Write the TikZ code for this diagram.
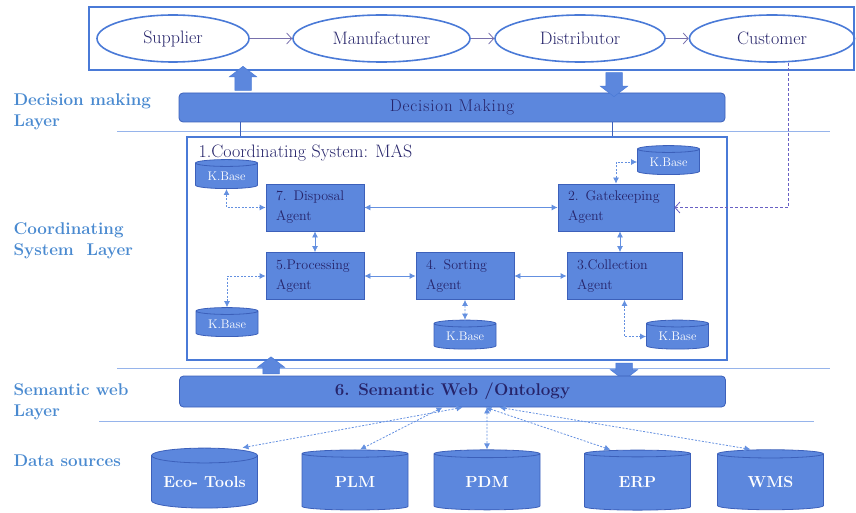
\documentclass[tikz,border=0pt]{standalone}
\usepackage{fontspec}
\setmainfont{Latin Modern Roman}
\usetikzlibrary{shapes.geometric,shapes.arrows,arrows.meta}
\definecolor{boxblue}{RGB}{92,135,221}
\definecolor{edgeblue}{RGB}{60,96,186}
\definecolor{frameblue}{RGB}{74,122,215}
\definecolor{linkblue}{RGB}{100,144,224}
\definecolor{inkblue}{RGB}{38,36,106}
\definecolor{layerblue}{RGB}{74,138,208}
\definecolor{chainline}{RGB}{120,112,172}
\definecolor{custline}{RGB}{104,96,196}
\definecolor{sepblue}{RGB}{150,180,235}

\tikzset{
  actor/.style={ellipse, draw=frameblue, line width=1.6pt, minimum height=47, inner sep=0pt, text=inkblue, font=\fontsize{18}{20}\selectfont},
  agent/.style={rectangle, draw=edgeblue, line width=0.8pt, fill=boxblue, minimum height=47, text width=#1, inner xsep=10pt, align=left, text=inkblue, font=\fontsize{14}{20}\selectfont},
  agent/.default=78,
  kbase/.style={cylinder, shape border rotate=90, aspect=0.18, draw=edgeblue, line width=0.8pt, fill=boxblue, minimum width=62, minimum height=29, inner sep=0pt, text=white, font=\fontsize{12.5}{14}\selectfont},
  store/.style={cylinder, shape border rotate=90, aspect=0.18, draw=edgeblue, line width=0.8pt, fill=boxblue, minimum width=106, minimum height=60, inner sep=0pt, text=white, font=\bfseries\fontsize{16}{18}\selectfont},
  bar/.style={rectangle, rounded corners=4pt, draw=edgeblue, line width=0.8pt, fill=boxblue, minimum width=546, text=inkblue},
  blockarr/.style={single arrow, draw=frameblue, line width=0.5pt, fill=boxblue, single arrow head extend=5.5, single arrow tip angle=105, inner xsep=0pt, inner ysep=8pt},
  layer/.style={anchor=west, align=left, text=layerblue, font=\bfseries\fontsize{17}{21}\selectfont},
  link/.style={draw=linkblue, line width=0.8pt, {Latex[length=6pt,width=6pt]}-{Latex[length=6pt,width=6pt]}},
  kblink/.style={link, dash pattern={on 2pt off 1.5pt}},
  sep/.style={draw=sepblue, line width=0.8pt}
}

\begin{document}
\begin{tikzpicture}[x=1pt,y=-1pt]
\useasboundingbox (0,0) rectangle (856,513);

% supply chain
\node[draw=frameblue, line width=1.8pt, minimum width=765, minimum height=63] (chain) at (471.5,38.5) {};
\node[actor, minimum width=152] (supp) at (173,38.5) {Supplier};
\node[actor, minimum width=177] (manu) at (381.5,38.5) {Manufacturer};
\node[actor, minimum width=170] (dist) at (580,38.5) {Distributor};
\node[actor, minimum width=165] (cust) at (772,38.5) {Customer};
\draw[chainline, line width=0.8pt, -{Straight Barb[length=5pt,width=11pt]}] (supp) -- (manu);
\draw[chainline, line width=0.8pt, -{Straight Barb[length=5pt,width=11pt]}] (manu) -- (dist);
\draw[chainline, line width=0.8pt, -{Straight Barb[length=5pt,width=11pt]}] (dist) -- (cust);

% decision making
\node[bar, minimum height=29, font=\addfontfeature{LetterSpace=5}\fontsize{17}{19}\selectfont] (dec) at (452,107.5) {Decision Making};
\node[blockarr, rotate=90, minimum height=24] (upa) at (243,81.5) {};
\node[blockarr, rotate=-90, minimum height=24] (downa) at (614,81.5) {};
\draw[sep] (117,131) -- (830,131);

% coordinating system
\node[draw=frameblue, line width=1.8pt, minimum width=540, minimum height=223] (mas) at (457,248.5) {};
\node[anchor=west, text=inkblue, font=\fontsize{18}{20}\selectfont] (mastitle) at (195,153) {1.Coordinating System: MAS};
\coordinate (ca) at (240,0);
\coordinate (cb) at (612,0);
\draw[edgeblue, line width=0.6pt] (dec.south -| ca) -- (mas.north -| ca);
\draw[edgeblue, line width=0.6pt] (dec.south -| cb) -- (mas.north -| cb);

\node[agent] (disp) at (315,207.5) {7. Disposal\\Agent};
\node[agent] (proc) at (315,276) {5.Processing\\Agent};
\node[agent] (sort) at (465,276) {4. Sorting\\Agent};
\node[agent=96] (gate) at (616,207.5) {2. Gatekeeping\\Agent};
\node[agent=95] (coll) at (624.5,276) {3.Collection\\Agent};

\node[kbase] (kb1) at (226.5,176) {K.Base};
\node[kbase] (kb2) at (668.5,162) {K.Base};
\node[kbase] (kb3) at (227,324) {K.Base};
\node[kbase] (kb4) at (465,336.5) {K.Base};
\node[kbase] (kb5) at (677.5,336.5) {K.Base};

\draw[link] (disp) -- (gate);
\draw[link] (disp) -- (proc);
\draw[link] (proc) -- (sort);
\draw[link] (sort) -- (coll);
\draw[link] ([xshift=4]gate.south) -- ([xshift=-4.5]coll.north);
\draw[kblink] (kb1.south) |- (disp.west);
\draw[kblink] (proc.west) -| (kb3.north);
\draw[kblink] (gate.north) |- (kb2.west);
\draw[kblink] (coll.south) |- (kb5.west);
\draw[kblink] (sort) -- (kb4);
\draw[custline, line width=0.8pt, dash pattern={on 3pt off 2pt}, -{Straight Barb[length=5pt,width=11pt]}] ([xshift=16]cust.south) |- (gate.east);

% semantic web
\draw[sep] (117,368) -- (830,368);
\node[blockarr, rotate=90, minimum height=17] (upb) at (271,368.5) {};
\node[blockarr, rotate=-90, minimum height=17] (downb) at (624,368.5) {};
\node[bar, minimum height=31, font=\bfseries\fontsize{17}{19}\selectfont] (sem) at (452.5,391.5) {6. Semantic Web /Ontology};
\draw[sep] (99,421) -- (814,421);

% data sources
\node[store] (eco) at (204.5,482) {Eco- Tools};
\node[store] (plm) at (355,482) {PLM};
\node[store] (pdm) at (487,482) {PDM};
\node[store] (erp) at (637.5,482) {ERP};
\node[store] (wms) at (770.5,482) {WMS};
\draw[kblink] ([xshift=10]sem.south) -- ([xshift=38]eco.north);
\draw[kblink] ([xshift=-10]sem.south) -- ([xshift=5]plm.north);
\draw[kblink] ([xshift=34.5]sem.south) -- (pdm.north);
\draw[kblink] ([xshift=33]sem.south) -- ([xshift=-27]erp.north);
\draw[kblink] ([xshift=47]sem.south) -- ([xshift=-20]wms.north);

% layer labels
\node[layer] (lab1) at (10,112) {Decision making\\Layer};
\node[layer] (lab2) at (10,241) {Coordinating\\System\ \ Layer};
\node[layer] (lab3) at (10,402) {Semantic web\\Layer};
\node[layer] (lab4) at (10,461) {Data sources};
\end{tikzpicture}
\end{document}
